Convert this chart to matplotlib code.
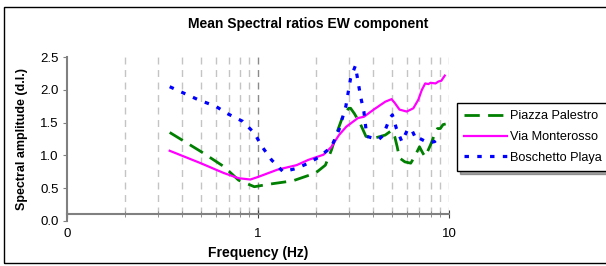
import matplotlib
matplotlib.use("Agg")
import matplotlib.pyplot as plt
import matplotlib.patches as mpatches
import numpy as np

plt.rcParams['font.family'] = ['Liberation Sans', 'DejaVu Sans']
plt.rcParams['lines.scale_dashes'] = False

# --- data ---
f_piazza = [0.344, 0.50, 0.66, 0.79, 0.955, 1.15, 1.52, 2.0, 2.25, 2.42, 2.58, 2.77,
            2.98, 3.05, 3.19, 3.42, 3.67, 4.03, 4.63, 5.0, 5.2, 5.35, 5.5, 5.87, 6.3,
            6.6, 7.0, 7.3, 7.5, 8.0, 8.5, 8.7, 9.0, 9.3, 9.6]
v_piazza = [1.35, 1.06, 0.83, 0.62, 0.52, 0.56, 0.61, 0.73, 0.85, 1.08, 1.34, 1.59,
            1.72, 1.72, 1.64, 1.49, 1.29, 1.26, 1.31, 1.38, 1.28, 1.13, 0.96, 0.90, 0.88,
            0.98, 1.13, 1.03, 0.98, 1.16, 1.36, 1.41, 1.41, 1.47, 1.48]

f_monte = [0.344, 0.50, 0.66, 0.79, 0.91, 1.0, 1.26, 1.59, 1.83, 2.2, 2.42, 2.65, 2.9,
           3.33, 3.58, 4.03, 4.63, 5.0, 5.2, 5.5, 6.0, 6.5, 6.9, 7.2, 7.5, 7.8, 8.0,
           8.5, 8.8, 9.1, 9.5]
v_monte = [1.07, 0.88, 0.73, 0.65, 0.63, 0.67, 0.78, 0.85, 0.93, 1.01, 1.13, 1.31, 1.44,
           1.57, 1.59, 1.70, 1.82, 1.86, 1.80, 1.70, 1.67, 1.72, 1.85, 2.0, 2.10, 2.09,
           2.11, 2.10, 2.13, 2.14, 2.22]

f_bosch = [0.344, 0.486, 0.60, 0.688, 0.83, 0.955, 1.05, 1.175, 1.35, 1.59, 1.83, 2.10,
           2.42, 2.65, 2.88, 3.05, 3.23, 3.44, 3.58, 3.71, 4.27, 4.5, 4.9, 5.05, 5.3,
           5.66, 6.1, 6.4, 6.74, 7.0, 7.8, 8.4, 9.1]
v_bosch = [2.05, 1.85, 1.75, 1.64, 1.52, 1.34, 1.13, 0.93, 0.75, 0.80, 0.88, 0.98,
           1.13, 1.39, 1.75, 2.18, 2.37, 1.90, 1.67, 1.29, 1.24, 1.30, 1.57, 1.62, 1.41,
           1.21, 1.41, 1.38, 1.24, 1.26, 1.19, 1.21, 1.29]

labels = ["Piazza Palestro", "Via Monterosso", "Boschetto Playa"]

fig = plt.figure(figsize=(6.06, 2.66), dpi=100)
ax = fig.add_axes([0.111, 0.1703, 0.630, 0.6143])

# vertical dashed grid at log positions
minor_pos = [k * 10.0 ** e for e in (-1, 0) for k in range(2, 10)]
ax.vlines(minor_pos + [10], 0.1, 2.5, colors='#c4c4c4', linewidth=1.0,
          linestyles=(0, (5, 4)), zorder=0)
ax.vlines([1], 0.1, 2.5, colors='#8a8a8a', linewidth=1.0,
          linestyles=(0, (5, 4)), zorder=0)

ax.plot(f_piazza, v_piazza, color='#008000', lw=2.0, dashes=(11, 6),
        dash_capstyle='butt', label=labels[0])
ax.plot(f_monte, v_monte, color='#ff00ff', lw=1.6, label=labels[1])
ax.plot(f_bosch, v_bosch, color='#0000ff', lw=2.3, dashes=(3.2, 6.0),
        dash_capstyle='butt', label=labels[2])

ax.set_xscale('log')
ax.set_xlim(0.1, 10)
ax.set_ylim(0, 2.5)
ax.set_xticks([0.1, 1, 10])
ax.set_xticklabels(["0", "1", "10"])
ax.set_xticks(minor_pos, minor=True)
ax.set_yticks(np.arange(0, 2.51, 0.5))
ax.set_yticklabels([f"{t:.1f}" for t in np.arange(0, 2.51, 0.5)])

for s in ('top', 'right'):
    ax.spines[s].set_visible(False)
ax.spines['bottom'].set_position(('data', 0.1))
ax.spines['bottom'].set_color('#808080')
ax.spines['bottom'].set_linewidth(1.5)
ax.spines['left'].set_color('#808080')
ax.spines['left'].set_linewidth(1.5)
ax.tick_params(axis='x', which='major', direction='inout', length=6, color='#404040',
               labelsize=9.5, pad=7)
ax.tick_params(axis='x', which='minor', direction='inout', length=4, color='#808080')
ax.tick_params(axis='y', direction='out', length=3, color='#808080', labelsize=9.5, pad=3)

ax.set_xlabel("Frequency (Hz)", fontsize=10, fontweight='bold', labelpad=4)
ax.set_ylabel("Spectral amplitude (d.l.)", fontsize=9, fontweight='bold', labelpad=9)
fig.text(308 / 606, 1 - 24 / 266, "Mean Spectral ratios EW component",
         ha='center', va='center', fontsize=10, fontweight='bold')

leg = fig.legend(loc='upper left', bbox_to_anchor=(457 / 606, 1 - 103 / 266),
                 fontsize=9.2, frameon=True, fancybox=False, shadow=True,
                 handlelength=3.4, handletextpad=0.2, labelspacing=0.7,
                 borderpad=0.55, borderaxespad=0)
leg.get_frame().set_edgecolor('black')
leg.get_frame().set_linewidth(1.0)

# outer chart border
fig.patches.append(mpatches.Rectangle((4 / 606, 3 / 266), 1.1, 256 / 266,
                                      transform=fig.transFigure, fill=False,
                                      edgecolor='black', linewidth=1.0))

fig.savefig("out.png", dpi=100)
